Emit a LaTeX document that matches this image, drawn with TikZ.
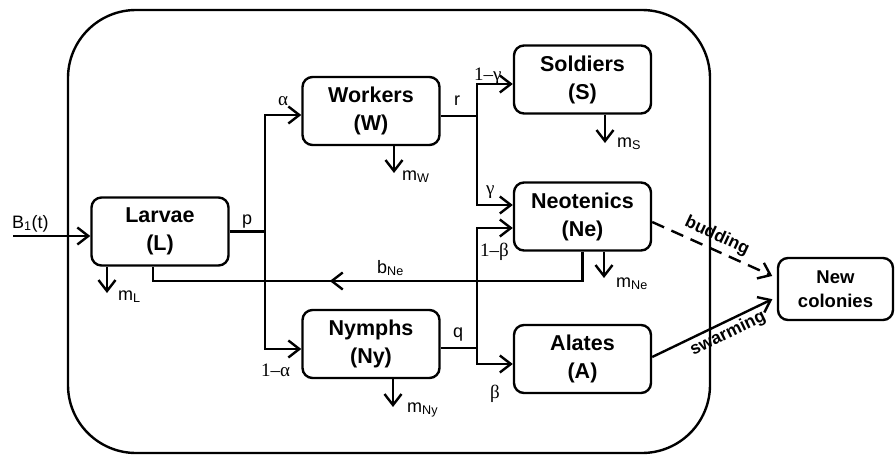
\documentclass[tikz,border=0pt]{standalone}
\usepackage{fontspec}
\setmainfont{Liberation Sans}
\newfontfamily\grk{Liberation Serif}
\usetikzlibrary{arrows.meta,decorations.markings}
\begin{document}
\begin{tikzpicture}[x=1pt,y=-1pt,
  box/.style={draw,line width=2.4pt,rounded corners=10pt,minimum width=137pt,minimum height=68pt,
    align=center,inner sep=0pt,font=\fontsize{21.5}{28}\selectfont\bfseries},
  con/.style={line width=2.4pt},
  tipx/.tip={Straight Barb[length=11pt,width=17pt,line width=2.4pt]},
  arr/.style={con,-tipx},
  lab/.style={font=\fontsize{18}{20}\selectfont,inner sep=0pt,anchor=base west},
  glab/.style={font=\grk\fontsize{19}{20}\selectfont,inner sep=0pt,anchor=base west},
  slab/.style={font=\bfseries\fontsize{17.5}{20}\selectfont,inner sep=0pt}]
\useasboundingbox (0,0) rectangle (895,455);

% colony boundary
\draw[line width=2.4pt,rounded corners=68pt] (68,10) rectangle (710,453);

% boxes
\node[box] (L)  at (160,231.5) {Larvae\\(L)};
\node[box] (W)  at (371,111)   {Workers\\(W)};
\node[box] (S)  at (582.5,79.5){Soldiers\\(S)};
\node[box] (Ne) at (582.5,216.5){Neotenics\\(Ne)};
\node[box] (Ny) at (371,344)   {Nymphs\\(Ny)};
\node[box] (A)  at (582.5,359) {Alates\\(A)};
\node[box,minimum width=115pt,minimum height=62pt,font=\fontsize{18.5}{24}\selectfont\bfseries] (NC) at (835.5,289) {New\\colonies};

% junctions and free ends
\coordinate (bin) at (13,236);
\coordinate (pj) at (265,231.5);
\coordinate (rj) at (477,116);
\coordinate (qj) at (477,348);
\coordinate (fbR) at (582.5,281);
\coordinate (fbL) at (153,281);

% inflow
\draw[arr] (bin) -- (L.west |- bin);
% larvae branches
\draw[con] (L.east) -- (pj);
\draw[arr] (pj) |- ([yshift=-4pt]W.west);
\draw[arr] (pj) |- ([yshift=-5pt]Ny.west);
% workers branches
\draw[con] ([yshift=-5pt]W.east) -- (rj);
\draw[arr] (rj) |- ([yshift=-4.5pt]S.west);
\draw[arr] (rj) |- ([yshift=11.5pt]Ne.west);
% nymphs branches
\draw[con] ([yshift=-4pt]Ny.east) -- (qj);
\draw[arr] (qj) |- ([yshift=-5pt]A.west);
\draw[arr] (qj) |- ([yshift=-11.5pt]Ne.west);
% feedback from neotenics to larvae
\draw[con,decoration={markings,mark=at position 282pt with {\arrow{tipx}}},postaction={decorate}]
  (Ne.south) -- (fbR) -- (fbL) -- ([xshift=-7pt]L.south);

% mortality
\coordinate (mLe) at (107,293);
\coordinate (mWe) at (394,173);
\coordinate (mSe) at (605,143);
\coordinate (mNee) at (604,278);
\coordinate (mNye) at (393,407);
\draw[arr] (L.south -| mLe) -- (mLe);
\draw[arr] (W.south -| mWe) -- (mWe);
\draw[arr] (S.south -| mSe) -- (mSe);
\draw[arr] (Ne.south -| mNee) -- (mNee);
\draw[arr] (Ny.south -| mNye) -- (mNye);

% to new colonies
\draw[arr,dash pattern=on 13pt off 8pt,shorten >=5pt] ([yshift=-5.5pt]Ne.east) -- ([yshift=11pt]NC.west);
\draw[arr,shorten >=5pt] ([yshift=2pt]A.east) -- ([yshift=-8pt]NC.west);
\node[slab,rotate=-25] (bud) at (717,236) {budding};
\node[slab,rotate=26] (swa) at (728,334) {swarming};

% labels
\node[lab] (tB) at (12,228) {B\textsubscript{1}(t)};
\node[lab] (tp) at (242,224) {p};
\node[lab] (tr) at (454,105) {r};
\node[lab] (tq) at (453,337) {q};
\node[lab] (tb) at (377,273) {b\textsubscript{Ne}};
\node[lab] (tmL) at (118,300) {m\textsubscript{L}};
\node[lab] (tmW) at (402,180) {m\textsubscript{W}};
\node[lab] (tmS) at (617,147) {m\textsubscript{S}};
\node[lab] (tmNe) at (616,287) {m\textsubscript{Ne}};
\node[lab] (tmNy) at (407,412) {m\textsubscript{Ny}};
\node[glab] (ga) at (278,105) {α};
\node[glab] (g1a) at (261,376) {1–α};
\node[glab] (g1g) at (474,80) {1–γ};
\node[glab] (gg) at (486,194) {γ};
\node[glab] (g1b) at (480,256) {1–β};
\node[glab] (gb) at (490,398) {β};
\end{tikzpicture}
\end{document}
